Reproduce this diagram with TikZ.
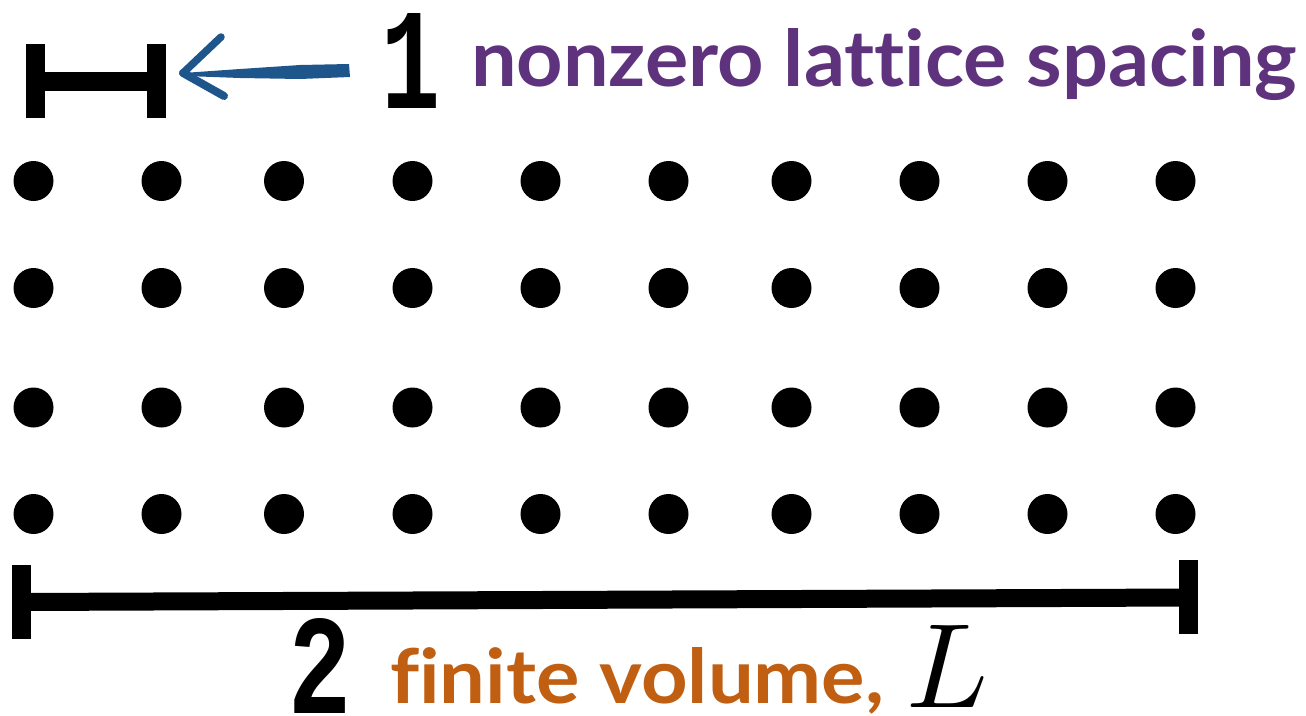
\documentclass[tikz,border=0pt]{standalone}
\usepackage{fontspec}
\usepackage{graphicx}
\newfontfamily\labelfont{Lato}[Ligatures=NoCommon]
\newfontfamily\digitfont{Liberation Mono}
\definecolor{lpurple}{RGB}{94,50,124}
\definecolor{lorange}{RGB}{192,94,18}
\definecolor{lblue}{RGB}{30,86,140}
\tikzset{
  dot/.style={circle,fill=black,inner sep=0pt,minimum size=40pt},
  barline/.style={line width=19pt,black},
  plain/.style={inner sep=0pt,outer sep=0pt},
  brush/.style={lblue,line cap=round,line join=round}
}
\begin{document}
\begin{tikzpicture}[x=1pt,y=-1pt]
\useasboundingbox (0,0) rectangle (1306,715);
% lattice of dots
\foreach \c/\x in {1/33.5,2/161.5,3/284,4/412.5,5/540.5,6/668.5,7/791.5,8/919.5,9/1047.5,10/1175.5}{
  \foreach \r/\y in {1/181,2/288,3/407.5,4/514}{
    \node[dot] (d-\r-\c) at (\x,\y) {};
  }
}
% top bar (lattice spacing)
\coordinate (ta1) at (35.5,44);  \coordinate (ta2) at (35.5,118);
\coordinate (tb1) at (156.5,44); \coordinate (tb2) at (156.5,118);
\coordinate (tl) at (35.5,81.5); \coordinate (tr) at (156.5,81.5);
\draw[barline] (ta1) -- (ta2);
\draw[barline] (tb1) -- (tb2);
\draw[barline] (tl) -- (tr);
% bottom bar (finite volume)
\coordinate (ba1) at (21.5,565);  \coordinate (ba2) at (21.5,639);
\coordinate (bb1) at (1188.5,560); \coordinate (bb2) at (1188.5,634);
\coordinate (bl) at (21.5,602); \coordinate (br) at (1188.5,597.5);
\draw[barline,line width=18pt] (bl) -- (br);
\draw[barline] (ba1) -- (ba2);
\draw[barline] (bb1) -- (bb2);
% hand-drawn blue arrow
\coordinate (tip) at (183,73);
\coordinate (tail) at (350,70);
\coordinate (armup) at (221,37);
\coordinate (armdn) at (224,96);
\fill[brush] (tip) -- (240,69) -- (300,65) -- (349,64) -- (350,77) -- (300,79) -- (240,78) -- (186,76) -- cycle;
\draw[brush,line width=7.5pt] (tip) -- (armup);
\draw[brush,line width=8pt] (tip) -- (armdn);
% labels
\node[plain] (one) at (410.5,60.5) {\resizebox{59pt}{95pt}{\digitfont\bfseries 1}};
\node[plain,anchor=base west,text=lpurple] (spacing) at (471,86)
  {\resizebox{826pt}{58pt}{\labelfont\bfseries nonzero lattice spacing}};
\node[plain] (two) at (320.5,665.5) {\resizebox{63pt}{95pt}{\digitfont\bfseries 2}};
\node[plain,anchor=base west,text=lorange] (volume) at (390,703)
  {\resizebox{494pt}{56pt}{\labelfont\bfseries finite volume,}};
\node[plain,anchor=base west] (ell) at (906,707) {\resizebox{82pt}{82pt}{$L$}};
\end{tikzpicture}
\end{document}
